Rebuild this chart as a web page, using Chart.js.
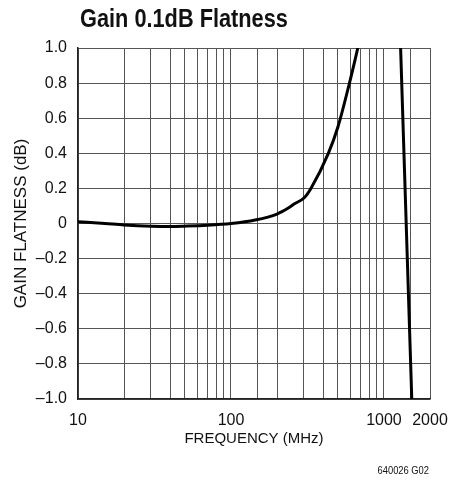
<!DOCTYPE html>
<html>
<head>
<meta charset="utf-8">
<script src="https://cdn.jsdelivr.net/npm/chart.js@4"></script>
<style>
  html, body { margin: 0; padding: 0; background: #fff; }
  #wrap { width: 453px; height: 481px; position: relative; }
</style>
</head>
<body>
<div id="wrap"><canvas id="flatChart" width="453" height="481"></canvas></div>
<script>
// Gain flatness vs frequency
const freqs = [10, 15, 20, 30, 40, 50, 70, 100, 144, 200, 237, 262, 300, 333, 433, 500, 595, 675, null, 1285, 1520];
const gains = [0.01, 0.0, -0.008, -0.015, -0.017, -0.015, -0.01, 0, 0.02, 0.054, 0.088, 0.114, 0.145, 0.2, 0.4, 0.55, 0.8, 1.0, null, 1.0, -1.0];
const xLabels = [10, 100, 1000, 2000];
const yTicks = [-1.0, -0.8, -0.6, -0.4, -0.2, 0, 0.2, 0.4, 0.6, 0.8, 1.0];

const FONT = '"Liberation Sans", Arial, Helvetica, sans-serif';

const points = freqs.map((f, i) => f === null ? { x: null, y: null } : { x: f, y: gains[i] });

// title and footnote drawn onto the canvas, squeezed a bit to look condensed
const textPlugin = {
    id: 'extraText',
    afterDraw(chart) {
        const c = chart.ctx;
        c.save();
        c.fillStyle = '#111';
        c.textBaseline = 'alphabetic';
        c.textAlign = 'left';
        c.translate(80, 27);
        c.scale(0.87, 1);
        c.font = 'bold 25px ' + FONT;
        c.fillText('Gain 0.1dB Flatness', 0, 0);
        c.restore();

        c.save();
        c.fillStyle = '#111';
        c.textAlign = 'right';
        c.textBaseline = 'alphabetic';
        c.translate(429, 474);
        c.scale(0.85, 1);
        c.font = '11px ' + FONT;
        c.fillText('640026 G02', 0, 0);
        c.restore();
    }
};

const gridColor = '#555';

new Chart(document.getElementById('flatChart'), {
    type: 'line',
    data: {
        datasets: [{
            data: points,
            borderColor: '#000',
            borderWidth: 3,
            pointRadius: 0,
            fill: false,
            spanGaps: false,
            cubicInterpolationMode: 'monotone'
        }]
    },
    options: {
        responsive: false,
        animation: false,
        events: [],
        layout: { padding: { top: 48, right: 23, left: 0, bottom: 0 } },
        plugins: { legend: { display: false }, tooltip: { enabled: false }, title: { display: false } },
        scales: {
            x: {
                type: 'logarithmic',
                min: 10,
                max: 2000,
                afterFit(scale) {
                    scale.height = 82;
                    scale.paddingRight = 0;
                    scale.paddingLeft = 0;
                },
                grid: { color: gridColor, lineWidth: 1, drawTicks: false },
                border: { color: '#222', width: 1.5 },
                ticks: {
                    autoSkip: false,
                    maxRotation: 0,
                    padding: 12,
                    color: '#111',
                    font: { family: FONT, size: 16 },
                    callback: (v) => xLabels.includes(v) ? String(v) : ''
                },
                title: {
                    display: true,
                    text: 'FREQUENCY (MHz)',
                    color: '#111',
                    font: { family: FONT, size: 15, lineHeight: 1.2 },
                    padding: { top: 0, bottom: 33 }
                }
            },
            y: {
                min: -1,
                max: 1,
                afterFit(scale) { scale.width = 78; },
                afterBuildTicks(scale) { scale.ticks = yTicks.map(v => ({ value: v })); },
                grid: { color: gridColor, lineWidth: 1, drawTicks: false },
                border: { color: '#222', width: 1.5 },
                ticks: {
                    padding: 11,
                    color: '#111',
                    font: { family: FONT, size: 16 },
                    callback: (v) => {
                        if (Math.abs(v) < 1e-9) return '0';
                        const s = Math.abs(v).toFixed(1);
                        return v < 0 ? '\u2013' + s : s;
                    }
                },
                title: {
                    display: true,
                    text: 'GAIN FLATNESS (dB)',
                    color: '#111',
                    font: { family: FONT, size: 17, lineHeight: 1.2 },
                    padding: { top: 11, bottom: 0 }
                }
            }
        }
    },
    plugins: [textPlugin]
});
</script>
</body>
</html>
